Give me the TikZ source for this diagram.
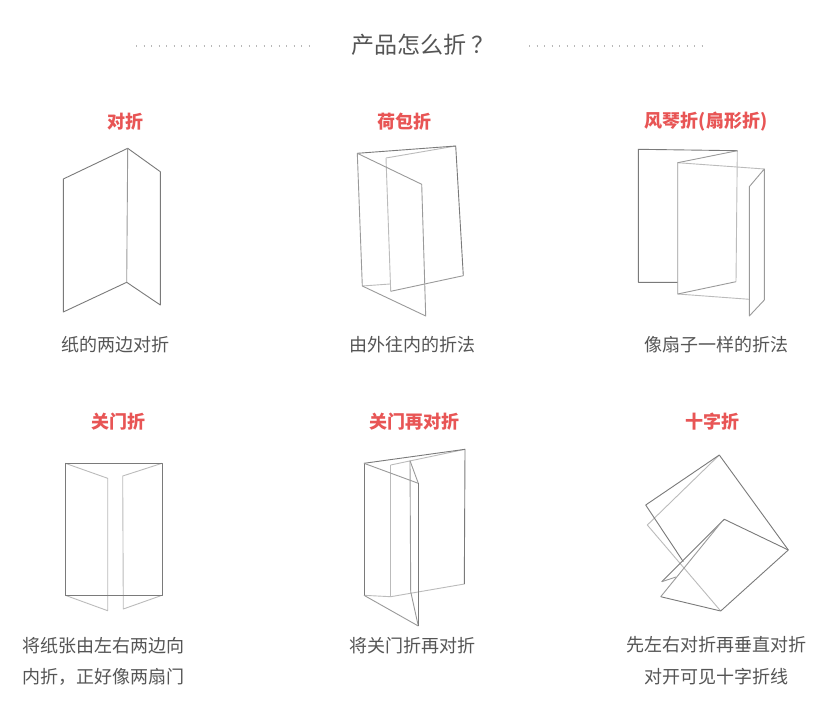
\documentclass[tikz,border=0pt]{standalone}
\usepackage{fontspec}
\setmainfont{Noto Sans CJK SC}
\definecolor{txt}{HTML}{555555}
\definecolor{hd}{HTML}{E85555}
\definecolor{dk}{HTML}{7A7A7A}
\definecolor{md}{HTML}{9A9A9A}
\definecolor{lt}{HTML}{BBBBBB}
\definecolor{dotc}{HTML}{B8B8B8}
\begin{document}
\begin{tikzpicture}[x=1pt,y=-1pt,
  ttltxt/.style={text=txt,font=\fontsize{23}{27}\selectfont,inner sep=0pt},
  headtxt/.style={text=hd,font=\fontsize{18}{21}\selectfont\bfseries,inner sep=0pt},
  captxt/.style={text=txt,font=\fontsize{18}{21}\selectfont,inner sep=0pt},
  dkl/.style={draw=dk,line width=0.9pt,line join=round},
  mdl/.style={draw=md,line width=0.9pt,line join=round},
  ltl/.style={draw=lt,line width=0.9pt,line join=round},
  dotl/.style={draw=dotc,line width=1.1pt,dash pattern=on 1.1pt off 6.4pt}]
\useasboundingbox[fill=white] (0,0) rectangle (837,706);

% title
\node[ttltxt] (t) at (423,45) {产品怎么折\hspace{5pt}？};
\coordinate (dl1) at (136,46); \coordinate (dl2) at (310,46);
\coordinate (dr1) at (529,46); \coordinate (dr2) at (705,46);
\draw[dotl] (dl1) -- (dl2);
\draw[dotl] (dr1) -- (dr2);

% headings
\node[headtxt] (h1) at (125,122) {对折};
\node[headtxt] (h2) at (404,122) {荷包折};
\node[headtxt] (h3) at (706,122) {风琴折(扇形折)};
\node[headtxt] (h4) at (118,422) {关门折};
\node[headtxt] (h5) at (414,422) {关门再对折};
\node[headtxt] (h6) at (712,422) {十字折};

% captions
\node[captxt] (c1) at (115,345) {纸的两边对折};
\node[captxt] (c2) at (412,345) {由外往内的折法};
\node[captxt] (c3) at (716,345) {像扇子一样的折法};
\node[captxt] (c4a) at (103,646) {将纸张由左右两边向};
\node[captxt] (c4b) at (103,677) {内折，正好像两扇门};
\node[captxt] (c5) at (412,646) {将关门折再对折};
\node[captxt] (c6a) at (716,645) {先左右对折再垂直对折};
\node[captxt] (c6b) at (716,677) {对开可见十字折线};

% 1 对折
\draw[dkl] (63.3,179) -- (127.7,148.3) -- (160.3,171.7) -- (160.3,305) -- (126.7,282.3) -- (63.3,312) -- cycle;
\draw[md,line width=0.9pt] (127.7,148.3) -- (126.7,282.3);

% 2 荷包折
\draw[ltl] (386,158) -- (455.7,146);
\draw[ltl] (386,158) -- (390.7,291.3);
\draw[ltl] (362.3,286) -- (390,284);
\draw[mdl] (390.7,291.3) -- (463.3,275.7);
\draw[dkl] (357.3,153.3) -- (455.7,146) -- (463.3,275.7);
\draw[mdl] (357.3,153.3) -- (362.3,286) -- (425.7,316) -- (421.7,184.3) -- cycle;

% 3 风琴折
\draw[dkl] (737.3,150.7) -- (638.3,149.3) -- (638.3,282.3) -- (677.7,282.3);
\draw[ltl] (737.3,150.7) -- (736,281.7);
\draw[ltl] (677.7,162.7) -- (764.3,169);
\draw[ltl] (677.7,294) -- (749.3,299.3);
\draw[mdl] (737.3,150.7) -- (677.7,162.7) -- (677.7,294) -- (736,281.7);
\draw[mdl] (764.3,169) -- (749.3,186.7) -- (749.3,316) -- (764.3,300) -- cycle;

% 4 关门折
\draw[ltl] (65.3,463.3) -- (107.7,478.3) -- (107.7,610.7) -- (65.3,595.3);
\draw[ltl] (162,463.3) -- (122.7,476) -- (123.3,609) -- (162,595.3);
\draw[dkl] (65.3,463.3) rectangle (162,595.3);

% 5 关门再对折
\draw[ltl] (390.7,465) -- (465,449.3);
\draw[ltl] (390.7,465) -- (390.7,596.7);
\draw[ltl] (364,595.3) -- (390.7,596.7) -- (464.3,584);
\draw[mdl] (410,460.7) -- (418.3,483.3);
\draw[mdl] (410,460.7) -- (410.7,591.7) -- (418.3,626);
\draw[dkl] (364,463.3) -- (465,449.3) -- (464.3,584);
\draw[dkl] (364,463.3) -- (364,595.3);
\draw[mdl] (364,463.3) -- (418.3,483.3);
\draw[mdl] (364,595.3) -- (418.3,626);
\draw[dkl] (418.3,483.3) -- (418.3,626);

% 6 十字折
\draw[ltl] (719.3,455) -- (647.3,525) -- (720.7,611);
\draw[dkl] (719.3,455) -- (645.7,505) -- (683.3,561.7);
\draw[dkl] (719.3,455) -- (788.3,550) -- (720.7,611);
\draw[dkl] (661.7,581.7) -- (724.3,519.3) -- (788.3,550);
\draw[mdl] (661.7,581.7) -- (676,577);
\draw[mdl] (721.5,522) -- (660.7,596.7);
\draw[dkl] (660.7,596.7) -- (720.7,611);
\end{tikzpicture}
\end{document}
